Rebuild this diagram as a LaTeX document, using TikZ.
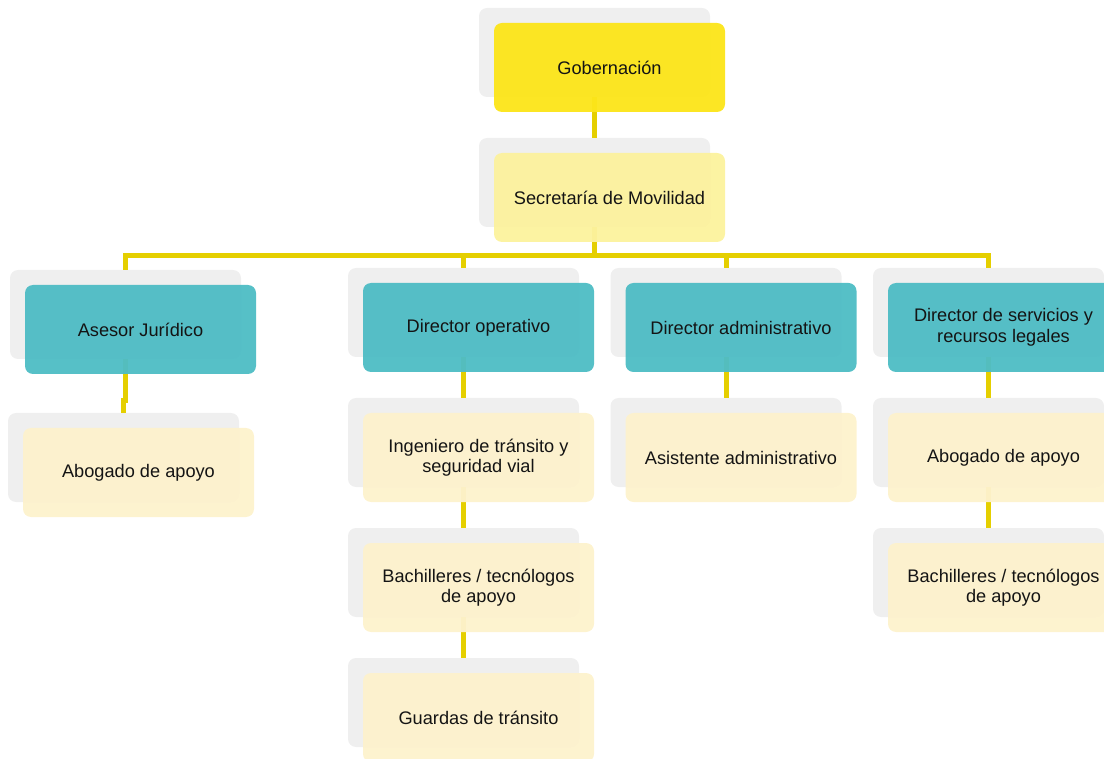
\documentclass[tikz,border=0pt]{standalone}
\usepackage{fontspec}
\setmainfont{Liberation Sans}
\definecolor{cardgrey}{HTML}{EFEFEF}
\definecolor{linkgold}{HTML}{E5CF00}
\definecolor{headyellow}{HTML}{FCE51B}
\definecolor{paleyellow}{HTML}{FCF29E}
\definecolor{tealbox}{HTML}{4FBDC5}
\definecolor{creambox}{HTML}{FDF2CD}
\definecolor{textdark}{HTML}{141414}
\begin{document}
\begin{tikzpicture}[x=1pt,y=-1pt,
  base/.style={rectangle, rounded corners=8pt, minimum width=231pt,
    minimum height=89pt, inner sep=0pt, align=center,
    font=\fontsize{18.2}{20.5}\selectfont, text=textdark},
  backcard/.style={base, fill=cardgrey},
  topbox/.style={base, fill=#1, fill opacity=0.96, text opacity=1},
  link/.style={draw=linkgold, line width=5pt},
]
\useasboundingbox (0,0) rectangle (1104,759);
\clip (0,0) rectangle (1104,759);

% grey cards behind every box
\foreach \n/\x/\y in {gob/609.5/67.5, sec/609.5/197.5,
    ase/140.5/329.5, dop/478.5/327.5, dad/741/327.5, dsl/1003.5/327.5,
    abo1/138.5/472.5, ing/478.5/457.5, asi/741/457.5, abo2/1003.5/457.5,
    bac1/478.5/587.5, bac2/1003.5/587.5, gua/478.5/717.5}
  \node[backcard] (\n-s) at (\x-15,\y-15) {};

% connectors
\coordinate (bus) at (594.5,256);
\draw[link] (gob-s.south) -- (sec-s.north);
\draw[link] (sec-s.south) -- (sec-s.south |- bus) -| (ase-s.north);
\draw[link] (sec-s.south) -- (sec-s.south |- bus) -| (dop-s.north);
\draw[link] (sec-s.south) -- (sec-s.south |- bus) -| (dad-s.north);
\draw[link] (sec-s.south) -- (sec-s.south |- bus) -| (dsl-s.north);
\draw[link] (ase-s.south) -- ++(0,41) -| (abo1-s.north);
\draw[link] (dop-s.south) -- (ing-s.north);
\draw[link] (ing-s.south) -- (bac1-s.north);
\draw[link] (bac1-s.south) -- (gua-s.north);
\draw[link] (dad-s.south) -- (asi-s.north);
\draw[link] (dsl-s.south) -- (abo2-s.north);
\draw[link] (abo2-s.south) -- (bac2-s.north);

% boxes
\node[topbox=headyellow] (gob) at (609.5,67.5) {Gobernación};
\node[topbox=paleyellow] (sec) at (609.5,197.5) {Secretaría de Movilidad};
\node[topbox=tealbox] (ase) at (140.5,329.5) {Asesor Jurídico};
\node[topbox=tealbox] (dop) at (478.5,327.5) {Director operativo};
\node[topbox=tealbox] (dad) at (741,327.5) {Director administrativo};
\node[topbox=tealbox] (dsl) at (1003.5,327.5) {Director de servicios y\\recursos legales};
\node[topbox=creambox] (abo1) at (138.5,472.5) {Abogado de apoyo};
\node[topbox=creambox] (ing) at (478.5,457.5) {Ingeniero de tránsito y\\seguridad vial};
\node[topbox=creambox] (asi) at (741,457.5) {Asistente administrativo};
\node[topbox=creambox] (abo2) at (1003.5,457.5) {Abogado de apoyo};
\node[topbox=creambox] (bac1) at (478.5,587.5) {Bachilleres / tecnólogos\\de apoyo};
\node[topbox=creambox] (bac2) at (1003.5,587.5) {Bachilleres / tecnólogos\\de apoyo};
\node[topbox=creambox] (gua) at (478.5,717.5) {Guardas de tránsito};
\end{tikzpicture}
\end{document}
